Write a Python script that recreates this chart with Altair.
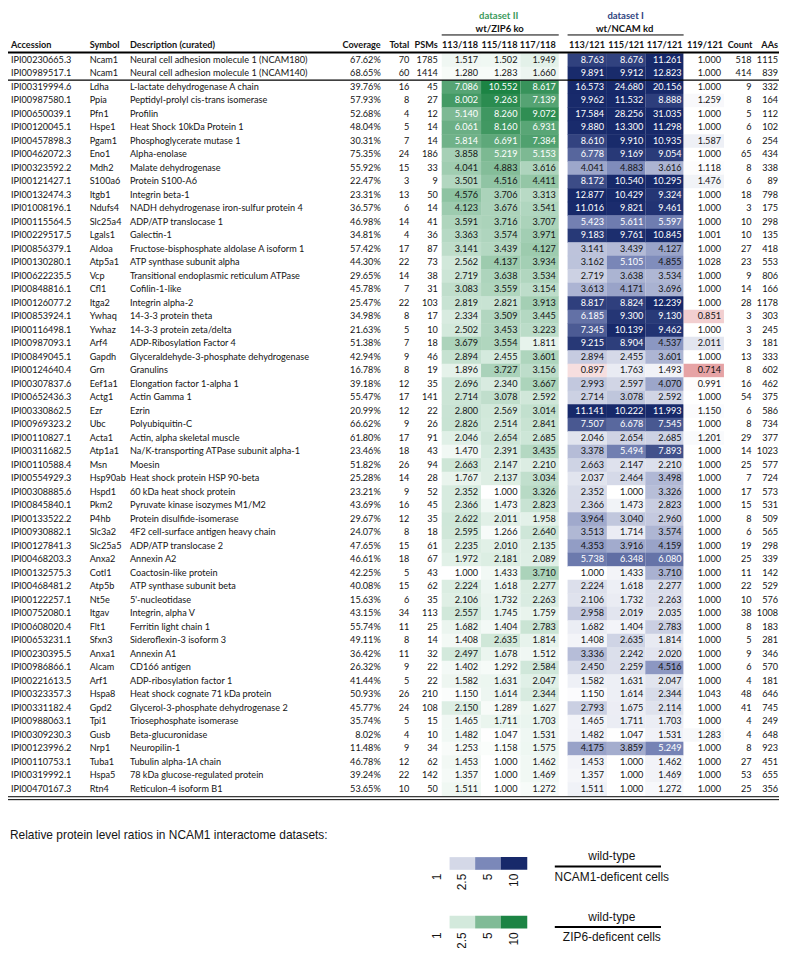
import altair as alt
import pandas as pd

# ------------------------------------------------------------------ data
accession = [
    "IPI00230665.3", "IPI00989517.1", "IPI00319994.6", "IPI00987580.1", "IPI00650039.1",
    "IPI00120045.1", "IPI00457898.3", "IPI00462072.3", "IPI00323592.2", "IPI00121427.1",
    "IPI00132474.3", "IPI01008196.1", "IPI00115564.5", "IPI00229517.5", "IPI00856379.1",
    "IPI00130280.1", "IPI00622235.5", "IPI00848816.1", "IPI00126077.2", "IPI00853924.1",
    "IPI00116498.1", "IPI00987093.1", "IPI00849045.1", "IPI00124640.4", "IPI00307837.6",
    "IPI00652436.3", "IPI00330862.5", "IPI00969323.2", "IPI00110827.1", "IPI00311682.5",
    "IPI00110588.4", "IPI00554929.3", "IPI00308885.6", "IPI00845840.1", "IPI00133522.2",
    "IPI00930882.1", "IPI00127841.3", "IPI00468203.3", "IPI00132575.3", "IPI00468481.2",
    "IPI00122257.1", "IPI00752080.1", "IPI00608020.4", "IPI00653231.1", "IPI00230395.5",
    "IPI00986866.1", "IPI00221613.5", "IPI00323357.3", "IPI00331182.4", "IPI00988063.1",
    "IPI00309230.3", "IPI00123996.2", "IPI00110753.1", "IPI00319992.1", "IPI00470167.3",
]
symbol = [
    "Ncam1", "Ncam1", "Ldha", "Ppia", "Pfn1", "Hspe1", "Pgam1", "Eno1", "Mdh2", "S100a6",
    "Itgb1", "Ndufs4", "Slc25a4", "Lgals1", "Aldoa", "Atp5a1", "Vcp", "Cfl1", "Itga2", "Ywhaq",
    "Ywhaz", "Arf4", "Gapdh", "Grn", "Eef1a1", "Actg1", "Ezr", "Ubc", "Acta1", "Atp1a1",
    "Msn", "Hsp90ab", "Hspd1", "Pkm2", "P4hb", "Slc3a2", "Slc25a5", "Anxa2", "Cotl1", "Atp5b",
    "Nt5e", "Itgav", "Flt1", "Sfxn3", "Anxa1", "Alcam", "Arf1", "Hspa8", "Gpd2", "Tpi1",
    "Gusb", "Nrp1", "Tuba1", "Hspa5", "Rtn4",
]
description = [
    "Neural cell adhesion molecule 1 (NCAM180)",
    "Neural cell adhesion molecule 1 (NCAM140)",
    "L-lactate dehydrogenase A chain",
    "Peptidyl-prolyl cis-trans isomerase",
    "Profilin",
    "Heat Shock 10kDa Protein 1",
    "Phosphoglycerate mutase 1",
    "Alpha-enolase",
    "Malate dehydrogenase",
    "Protein S100-A6",
    "Integrin beta-1",
    "NADH dehydrogenase iron-sulfur protein 4",
    "ADP/ATP translocase 1",
    "Galectin-1",
    "Fructose-bisphosphate aldolase A isoform 1",
    "ATP synthase subunit alpha",
    "Transitional endoplasmic reticulum ATPase",
    "Cofilin-1-like",
    "Integrin alpha-2",
    "14-3-3 protein theta",
    "14-3-3 protein zeta/delta",
    "ADP-Ribosylation Factor 4",
    "Glyceraldehyde-3-phosphate dehydrogenase",
    "Granulins",
    "Elongation factor 1-alpha 1",
    "Actin Gamma 1",
    "Ezrin",
    "Polyubiquitin-C",
    "Actin, alpha skeletal muscle",
    "Na/K-transporting ATPase subunit alpha-1",
    "Moesin",
    "Heat shock protein HSP 90-beta",
    "60 kDa heat shock protein",
    "Pyruvate kinase isozymes M1/M2",
    "Protein disulfide-isomerase",
    "4F2 cell-surface antigen heavy chain",
    "ADP/ATP translocase 2",
    "Annexin A2",
    "Coactosin-like protein",
    "ATP synthase subunit beta",
    "5'-nucleotidase",
    "Integrin, alpha V",
    "Ferritin light chain 1",
    "Sideroflexin-3 isoform 3",
    "Annexin A1",
    "CD166 antigen",
    "ADP-ribosylation factor 1",
    "Heat shock cognate 71 kDa protein",
    "Glycerol-3-phosphate dehydrogenase 2",
    "Triosephosphate isomerase",
    "Beta-glucuronidase",
    "Neuropilin-1",
    "Tubulin alpha-1A chain",
    "78 kDa glucose-regulated protein",
    "Reticulon-4 isoform B1",
]
coverage_pct = [
    67.62, 68.65, 39.76, 57.93, 52.68, 48.04, 30.31, 75.35, 55.92, 22.47,
    23.31, 36.57, 46.98, 34.81, 57.42, 44.30, 29.65, 45.78, 25.47, 34.98,
    21.63, 51.38, 42.94, 16.78, 39.18, 55.47, 20.99, 66.62, 61.80, 23.46,
    51.82, 25.28, 23.21, 43.69, 29.67, 24.07, 47.65, 46.61, 42.25, 40.08,
    15.63, 43.15, 55.74, 49.11, 36.42, 26.32, 41.44, 50.93, 45.77, 35.74,
    8.02, 11.48, 46.78, 39.24, 53.65,
]
total_peptides = [
    70, 60, 16, 8, 4, 5, 7, 24, 15, 3,
    13, 6, 14, 4, 17, 22, 14, 7, 22, 8,
    5, 7, 9, 8, 12, 17, 12, 9, 17, 18,
    26, 14, 9, 16, 12, 8, 15, 18, 5, 15,
    6, 34, 11, 8, 11, 9, 5, 26, 24, 5,
    4, 9, 12, 22, 10,
]
psms = [
    1785, 1414, 45, 27, 12, 14, 14, 186, 33, 9,
    50, 14, 41, 36, 87, 73, 38, 31, 103, 17,
    10, 18, 46, 19, 35, 141, 22, 26, 91, 43,
    94, 28, 52, 45, 35, 18, 61, 67, 43, 62,
    35, 113, 25, 14, 32, 22, 22, 210, 108, 15,
    10, 34, 62, 142, 50,
]
# dataset II : wt / ZIP6 ko
ratio_113_118 = [
    1.517, 1.280, 7.086, 8.002, 5.140, 6.061, 5.814, 3.858, 4.041, 3.501,
    4.576, 4.123, 3.591, 3.363, 3.141, 2.562, 2.719, 3.083, 2.819, 2.334,
    2.502, 3.679, 2.894, 1.896, 2.696, 2.714, 2.800, 2.826, 2.046, 1.470,
    2.663, 1.767, 2.352, 2.366, 2.622, 2.595, 2.235, 1.972, 1.000, 2.224,
    2.106, 2.557, 1.682, 1.408, 2.497, 1.402, 1.582, 1.150, 2.150, 1.465,
    1.482, 1.253, 1.453, 1.357, 1.511,
]
ratio_115_118 = [
    1.502, 1.283, 10.552, 9.263, 8.260, 8.160, 6.691, 5.219, 4.883, 4.516,
    3.706, 3.676, 3.716, 3.574, 3.439, 4.137, 3.638, 3.559, 2.821, 3.509,
    3.453, 3.554, 2.455, 3.727, 2.340, 3.078, 2.569, 2.514, 2.654, 2.391,
    2.147, 2.137, 1.000, 1.473, 2.011, 1.266, 2.010, 2.181, 1.433, 1.618,
    1.732, 1.745, 1.404, 2.635, 1.678, 1.292, 1.631, 1.614, 1.289, 1.711,
    1.047, 1.158, 1.000, 1.000, 1.000,
]
ratio_117_118 = [
    1.949, 1.660, 8.617, 7.139, 9.072, 6.931, 7.384, 5.153, 3.616, 4.411,
    3.313, 3.541, 3.707, 3.971, 4.127, 3.934, 3.534, 3.154, 3.913, 3.445,
    3.223, 1.811, 3.601, 3.156, 3.667, 2.592, 3.014, 2.841, 2.685, 3.435,
    2.210, 3.034, 3.326, 2.823, 1.958, 2.640, 2.135, 2.089, 3.710, 2.277,
    2.263, 1.759, 2.783, 1.814, 1.512, 2.584, 2.047, 2.344, 1.627, 1.703,
    1.531, 1.575, 1.462, 1.469, 1.272,
]
# dataset I : wt / NCAM kd
ratio_113_121 = [
    8.763, 9.891, 16.573, 9.962, 17.584, 9.880, 8.610, 6.778, 4.041, 8.172,
    12.877, 11.016, 5.423, 9.183, 3.141, 3.162, 2.719, 3.613, 8.817, 6.185,
    7.345, 9.215, 2.894, 0.897, 2.993, 2.714, 11.141, 7.507, 2.046, 3.378,
    2.663, 2.037, 2.352, 2.366, 3.964, 3.513, 4.353, 5.738, 1.000, 2.224,
    2.106, 2.958, 1.682, 1.408, 3.336, 2.450, 1.582, 1.150, 2.793, 1.465,
    1.482, 4.175, 1.453, 1.357, 1.511,
]
ratio_115_121 = [
    8.676, 9.912, 24.680, 11.532, 28.256, 13.300, 9.910, 9.169, 4.883, 10.540,
    10.429, 9.821, 5.611, 9.761, 3.439, 5.105, 3.638, 4.171, 8.824, 9.300,
    10.139, 8.904, 2.455, 1.763, 2.597, 3.078, 10.222, 6.678, 2.654, 5.494,
    2.147, 2.464, 1.000, 1.473, 3.040, 1.714, 3.916, 6.348, 1.433, 1.618,
    1.732, 2.019, 1.404, 2.635, 2.242, 2.259, 1.631, 1.614, 1.675, 1.711,
    1.047, 3.859, 1.000, 1.000, 1.000,
]
ratio_117_121 = [
    11.261, 12.823, 20.156, 8.888, 31.035, 11.298, 10.935, 9.054, 3.616, 10.295,
    9.324, 9.461, 5.597, 10.845, 4.127, 4.855, 3.534, 3.696, 12.239, 9.130,
    9.462, 4.537, 3.601, 1.493, 4.070, 2.592, 11.993, 7.545, 2.685, 7.893,
    2.210, 3.498, 3.326, 2.823, 2.960, 3.574, 4.159, 6.080, 3.710, 2.277,
    2.263, 2.035, 2.783, 1.814, 2.020, 4.516, 2.047, 2.344, 2.114, 1.703,
    1.531, 5.249, 1.462, 1.469, 1.272,
]
ratio_119_121 = [
    1.000, 1.000, 1.000, 1.259, 1.000, 1.000, 1.587, 1.000, 1.118, 1.476,
    1.000, 1.000, 1.000, 1.001, 1.000, 1.028, 1.000, 1.000, 1.000, 0.851,
    1.000, 2.011, 1.000, 0.714, 0.991, 1.000, 1.150, 1.000, 1.201, 1.000,
    1.000, 1.000, 1.000, 1.000, 1.000, 1.000, 1.000, 1.000, 1.000, 1.000,
    1.000, 1.000, 1.000, 1.000, 1.000, 1.000, 1.000, 1.043, 1.000, 1.000,
    1.283, 1.000, 1.000, 1.000, 1.000,
]
count = [
    518, 414, 9, 8, 5, 6, 6, 65, 8, 6,
    18, 3, 10, 10, 27, 23, 9, 14, 28, 3,
    3, 3, 13, 8, 16, 54, 6, 8, 29, 14,
    25, 7, 17, 15, 8, 6, 19, 25, 11, 22,
    10, 38, 8, 5, 9, 6, 4, 48, 41, 4,
    4, 8, 27, 53, 25,
]
aas = [
    1115, 839, 332, 164, 112, 102, 254, 434, 338, 89,
    798, 175, 298, 135, 418, 553, 806, 166, 1178, 303,
    245, 181, 333, 602, 462, 375, 586, 734, 377, 1023,
    577, 724, 573, 531, 509, 565, 298, 339, 142, 529,
    576, 1008, 183, 281, 346, 570, 181, 646, 745, 249,
    648, 923, 451, 655, 356,
]
header_labels = {
    "acc": "Accession", "sym": "Symbol", "desc": "Description (curated)",
    "cov": "Coverage", "total": "Total", "psms": "PSMs",
    "g1": "113/118", "g2": "115/118", "g3": "117/118",
    "b1": "113/121", "b2": "115/121", "b3": "117/121", "b4": "119/121",
    "count": "Count", "aas": "AAs",
}
group_titles = ["dataset II", "dataset I"]
group_subtitles = ["wt/ZIP6 ko", "wt/NCAM kd"]
legend_title = "Relative protein level ratios in NCAM1 interactome datasets:"
legend_steps = [1, 2.5, 5, 10]
legend_step_labels = ["1", "2.5", "5", "10"]
legend_numerator = "wild-type"
legend_denominators = ["NCAM1-deficent cells", "ZIP6-deficent cells"]

n = len(accession)
for lst in [symbol, description, coverage_pct, total_peptides, psms, ratio_113_118,
            ratio_115_118, ratio_117_118, ratio_113_121, ratio_115_121, ratio_117_121,
            ratio_119_121, count, aas]:
    assert len(lst) == n, len(lst)

# ------------------------------------------------------------------ layout (reference pixel units)
ROW0, ROWH = 50.0, 13.82
LEFT_X = {"acc": 3, "sym": 83, "desc": 124}
RIGHT_X = {"cov": 379, "total": 408, "psms": 437, "g1": 478, "g2": 518, "g3": 557,
           "b1": 606, "b2": 646, "b3": 685, "b4": 725, "count": 756, "aas": 783}
HEAD_RIGHT_X = dict(RIGHT_X, b1=607, b2=647, b3=686, b4=727, count=757)
CELL_X = {"g1": (441, 481), "g2": (481, 521), "g3": (521, 560),
          "b1": (569, 609), "b2": (609, 648), "b3": (648, 687), "b4": (687, 728)}
LEG_X = [(423, 449), (449, 475), (475, 501), (501, 528)]
FONT = "Lato"
FS = 9.2
INK = "#141414"
GREEN_TXT = "#3a9a5c"
BLUE_TXT = "#2f4480"

XS = alt.Scale(domain=[0, 787], range=[0, 779], nice=False, zero=False)
YS = alt.Scale(domain=[0, 961], range=[0, 945], nice=False, zero=False)
GREEN_SCALE = alt.Scale(domain=[1, 2.5, 5, 10],
                        range=["#ffffff", "#d3e9dc", "#80bb96", "#1c8444"],
                        clamp=True, interpolate="rgb")
BLUE_SCALE = alt.Scale(domain=[0.7, 1, 2.5, 5, 10],
                       range=["#e59fa1", "#ffffff", "#d4d8e7", "#7b88b9", "#17296a"],
                       clamp=True, interpolate="rgb")

green_cols = [("g1", ratio_113_118), ("g2", ratio_115_118), ("g3", ratio_117_118)]
blue_cols = [("b1", ratio_113_121), ("b2", ratio_115_121), ("b3", ratio_117_121),
             ("b4", ratio_119_121)]

# ------------------------------------------------------------------ frames
left_recs = []
for k, vals in [("acc", accession), ("sym", symbol), ("desc", description)]:
    for i in range(n):
        left_recs.append(dict(row=i, x=LEFT_X[k], txt=vals[i]))
right_recs = []
plain = [("cov", [f"{v:.2f}%" for v in coverage_pct]),
         ("total", [str(v) for v in total_peptides]),
         ("psms", [str(v) for v in psms]),
         ("count", [str(v) for v in count]),
         ("aas", [str(v) for v in aas])]
for k, vals in plain:
    for i in range(n):
        right_recs.append(dict(row=i, x=RIGHT_X[k], txt=vals[i], val=0.0))
for k, vals in green_cols + blue_cols:
    for i in range(n):
        right_recs.append(dict(row=i, x=RIGHT_X[k], txt=f"{vals[i]:.3f}", val=vals[i]))

def cell_frame(cols):
    recs = []
    for k, vals in cols:
        for i in range(n):
            recs.append(dict(row=i, x0=CELL_X[k][0], x1=CELL_X[k][1], val=vals[i]))
    return pd.DataFrame(recs)

green_df = cell_frame(green_cols)
blue_df = cell_frame(blue_cols)

rect_calc = dict(y0=f"{ROW0} + {ROWH} * (datum.row - 0.5)",
                 y1=f"{ROW0} + {ROWH} * (datum.row + 0.5) + 0.5")

def cells(df, scale):
    return alt.Chart(df).transform_calculate(**rect_calc).mark_rect(strokeWidth=0).encode(
        x=alt.X("x0:Q", scale=XS, axis=None), x2="x1:Q",
        y=alt.Y("y0:Q", scale=YS, axis=None), y2="y1:Q",
        color=alt.Color("val:Q", scale=scale, legend=None))

def text_layer(df, align="left", size=FS, weight="normal", font=FONT, angle=0, calc=None):
    ch = alt.Chart(df)
    if calc:
        ch = ch.transform_calculate(**calc)
    return ch.mark_text(align=align, baseline="middle", font=font, fontSize=size,
                        fontWeight=weight, angle=angle).encode(
        x=alt.X("x:Q", scale=XS, axis=None),
        y=alt.Y("y:Q", scale=YS, axis=None),
        text="txt:N",
        color=alt.Color("c:N", scale=None))

ycalc = {"y": f"{ROW0} + {ROWH} * datum.row"}
body_left = text_layer(pd.DataFrame(left_recs), "left",
                       calc=dict(ycalc, c=f"'{INK}'"))
body_right = text_layer(pd.DataFrame(right_recs), "right",
                        calc=dict(ycalc, c=f"datum.val >= 5 ? 'white' : '{INK}'"))

HEAD_Y = 35
head_left = pd.DataFrame([dict(x=LEFT_X[k], y=HEAD_Y, txt=header_labels[k], c=INK)
                          for k in LEFT_X])
head_right = pd.DataFrame([dict(x=HEAD_RIGHT_X[k], y=HEAD_Y, txt=header_labels[k], c=INK)
                           for k in RIGHT_X])
head_center = pd.DataFrame([
    dict(x=499, y=5, txt=group_titles[0], c=GREEN_TXT),
    dict(x=628, y=5, txt=group_titles[1], c=BLUE_TXT),
    dict(x=500, y=18, txt=group_subtitles[0], c=INK),
    dict(x=627, y=18, txt=group_subtitles[1], c=INK),
])

bottom = ROW0 + ROWH * (n - 0.5)
rules_df = pd.DataFrame([
    dict(x0=441, x1=560, y=24.5, sw=1.0),
    dict(x0=569, x1=687, y=24.5, sw=1.0),
    dict(x0=0, x1=787, y=42.5, sw=2.0),
    dict(x0=0, x1=787, y=ROW0 + ROWH * 1.5, sw=1.3),
    dict(x0=0, x1=787, y=bottom + 1.0, sw=1.0),
    dict(x0=0, x1=787, y=bottom + 4.0, sw=1.0),
    dict(x0=556, x1=664, y=875.5, sw=2.0),
    dict(x0=556, x1=664, y=937.5, sw=2.0),
])
rules = alt.Chart(rules_df).mark_rule(color="black").encode(
    x=alt.X("x0:Q", scale=XS, axis=None), x2="x1:Q",
    y=alt.Y("y:Q", scale=YS, axis=None),
    strokeWidth=alt.StrokeWidth("sw:Q", scale=None))

# legend swatches, coloured through the same scales as the table
def legend_cells(scale, y0, y1):
    df = pd.DataFrame({"val": legend_steps,
                       "x0": [a for a, b in LEG_X], "x1": [b for a, b in LEG_X],
                       "y0": y0, "y1": y1})
    return alt.Chart(df).mark_rect(strokeWidth=0).encode(
        x=alt.X("x0:Q", scale=XS, axis=None), x2="x1:Q",
        y=alt.Y("y0:Q", scale=YS, axis=None), y2="y1:Q",
        color=alt.Color("val:Q", scale=scale, legend=None))

leg_centers = [(a + b) / 2 for a, b in LEG_X]
tick_df = pd.DataFrame(
    [dict(x=c, y=883, txt=t, c=INK) for c, t in zip(leg_centers, legend_step_labels)] +
    [dict(x=c, y=943, txt=t, c=INK) for c, t in zip(leg_centers, legend_step_labels)])
leg_title_df = pd.DataFrame([dict(x=2, y=843, txt=legend_title, c=INK)])
leg_frac_df = pd.DataFrame([
    dict(x=614, y=865, txt=legend_numerator, c=INK),
    dict(x=614, y=886, txt=legend_denominators[0], c=INK),
    dict(x=614, y=927, txt=legend_numerator, c=INK),
    dict(x=614, y=948, txt=legend_denominators[1], c=INK),
])

LEGEND_FONT = "Liberation Sans"
layers = [
    cells(green_df, GREEN_SCALE),
    cells(blue_df, BLUE_SCALE),
    legend_cells(BLUE_SCALE, 866, 879),
    legend_cells(GREEN_SCALE, 926, 939),
    rules,
    body_left,
    body_right,
    text_layer(head_left, "left", weight="bold"),
    text_layer(head_right, "right", weight="bold"),
    text_layer(head_center, "center", weight="bold", size=9.6),
    text_layer(leg_title_df, "left", size=12, font=LEGEND_FONT),
    text_layer(leg_frac_df, "center", size=12, font=LEGEND_FONT),
    text_layer(tick_df, "right", size=12, font=LEGEND_FONT, angle=270),
]

chart = alt.layer(*layers).resolve_scale(color="independent").properties(
    width=776, height=940, padding=0,
    autosize=alt.AutoSizeParams(type="none"),
).configure_view(stroke=None)

chart.save("out.html", embed_options={"renderer": "svg", "actions": False})
